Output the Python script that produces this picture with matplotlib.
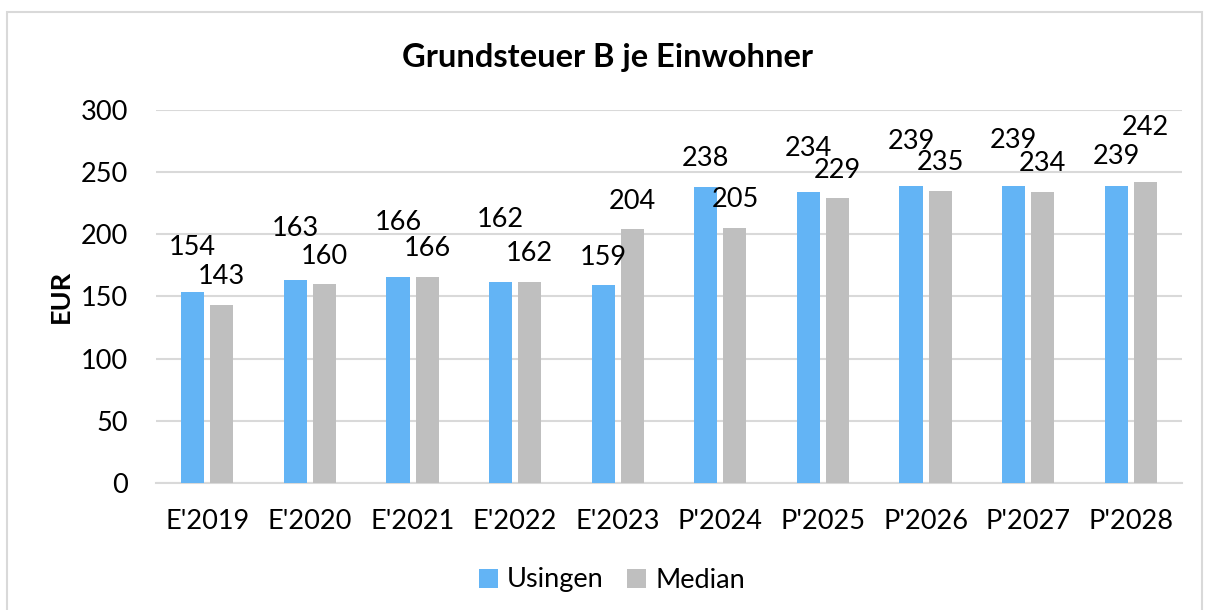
import matplotlib.pyplot as plt
import numpy as np
from matplotlib.patches import Rectangle

categories = ["E'2019", "E'2020", "E'2021", "E'2022", "E'2023",
              "P'2024", "P'2025", "P'2026", "P'2027", "P'2028"]
usingen = [154, 163, 166, 162, 159, 238, 234, 239, 239, 239]
median = [143, 160, 166, 162, 204, 205, 229, 235, 234, 242]

# label lift above bar top, in pixels (labels were nudged to avoid overlap)
usingen_lift = [44, 52, 54, 62, 28, 29, 44, 44, 45, 29]
median_lift = [29, 28, 28, 28, 28, 29, 28, 28, 29, 55]

BLUE = "#63B4F5"
GREY = "#BFBFBF"
FONT = "Lato"

plt.rcParams["font.family"] = [FONT, "DejaVu Sans"]

fig = plt.figure(figsize=(12.05, 6.1), dpi=100)
ax = fig.add_axes([0.1295, 0.2082, 0.8515, 0.6115])

# outer chart frame
fig.patches.append(Rectangle((7 / 1205, -0.01), 1195 / 1205, 1 - 12 / 610 + 0.01,
                             transform=fig.transFigure, fill=False,
                             edgecolor="#D9D9D9", linewidth=1.5))

x = np.arange(len(categories))
width = 0.225
offset = 0.142

b1 = ax.bar(x - offset, usingen, width, color=BLUE, label="Usingen", zorder=3)
b2 = ax.bar(x + offset, median, width, color=GREY, label="Median", zorder=3)

for rect, val, lift in zip(b1, usingen, usingen_lift):
    ax.annotate(str(val), (rect.get_x() + rect.get_width() / 2, val),
                xytext=(0, lift), textcoords="offset pixels",
                ha="center", va="center", fontsize=19.5, zorder=4)
for rect, val, lift in zip(b2, median, median_lift):
    ax.annotate(str(val), (rect.get_x() + rect.get_width() / 2, val),
                xytext=(0, lift), textcoords="offset pixels",
                ha="center", va="center", fontsize=19.5, zorder=4)

ax.set_xlim(-0.5, len(categories) - 0.5)
ax.set_ylim(0, 300)
ax.set_yticks(range(0, 301, 50))
ax.set_xticks(x)
ax.set_xticklabels(categories)
ax.grid(axis="y", color="#D9D9D9", linewidth=1.5, zorder=0)
for side in ["top", "right", "left"]:
    ax.spines[side].set_visible(False)
ax.spines["bottom"].set_color("#D9D9D9")
ax.spines["bottom"].set_linewidth(1.5)
ax.tick_params(axis="both", length=0, labelsize=19.5)
ax.tick_params(axis="y", pad=20)
ax.tick_params(axis="x", pad=19)

ax.set_ylabel("EUR", fontsize=19.5, fontweight="bold", labelpad=6)
fig.text(608 / 1205, 1 - 57 / 610, "Grundsteuer B je Einwohner",
         ha="center", va="center", fontsize=23.5, fontweight="bold")

fig.legend(handles=[b1, b2], loc="center", bbox_to_anchor=(612 / 1205, 1 - 580 / 610),
           ncol=2, frameon=False, fontsize=19.5, handlelength=0.7, handleheight=0.7,
           handletextpad=0.35, columnspacing=0.85)

fig.savefig("out.png", dpi=100, facecolor="white")
